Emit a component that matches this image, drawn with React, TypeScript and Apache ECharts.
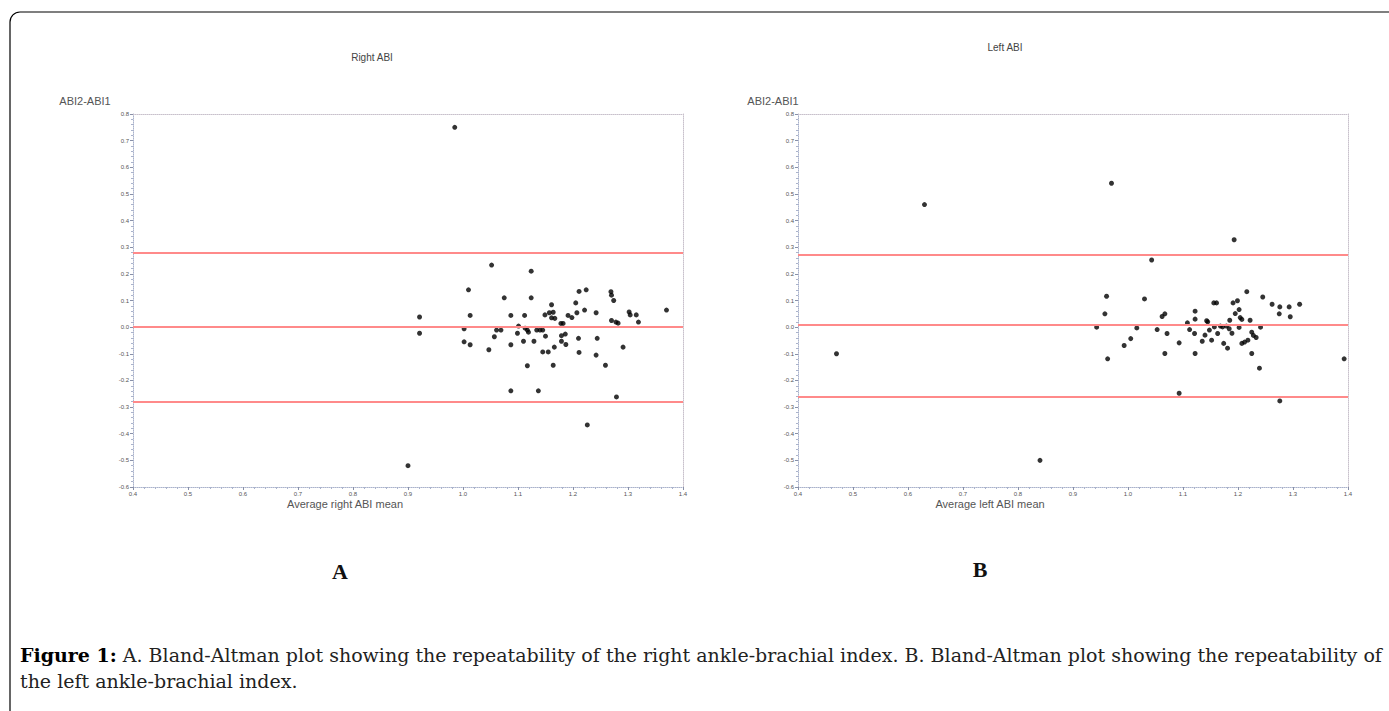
import React, { useEffect, useRef } from "react";
import * as echarts from "echarts";

// Right ABI (panel A): mean of the two measurements vs difference
const rightAbiMean = [
  1.052, 1.124, 1.01, 1.075, 1.124, 1.211, 1.224, 1.269, 1.27, 1.274, 1.161, 1.205,
  0.921, 0.921, 1.013, 1.002, 1.002, 1.013, 1.047, 1.057, 1.061, 1.069, 1.087, 1.112,
  1.087, 1.101, 1.099, 1.11, 1.113, 1.117, 1.119, 1.129, 1.134, 1.14, 1.145, 1.15,
  1.149, 1.157, 1.164, 1.161, 1.167, 1.178, 1.182, 1.191, 1.198, 1.207, 1.221, 1.242,
  1.179, 1.186, 1.179, 1.187, 1.166, 1.145, 1.155, 1.117, 1.164, 1.21, 1.211, 1.244,
  1.242, 1.259, 1.291, 1.27, 1.278, 1.282, 1.302, 1.304, 1.315, 1.319, 1.37, 1.087,
  1.137, 1.279, 1.226, 0.985, 0.9,
];
const rightAbiDiff = [
  0.233, 0.21, 0.14, 0.11, 0.11, 0.134, 0.14, 0.133, 0.12, 0.1, 0.084, 0.091,
  0.038, -0.023, 0.044, -0.006, -0.055, -0.066, -0.085, -0.036, -0.011, -0.011, 0.044, 0.044,
  -0.066, 0.004, -0.023, -0.053, -0.004, -0.011, -0.019, -0.053, -0.011, -0.011, -0.011, -0.034,
  0.046, 0.054, 0.056, 0.035, 0.033, 0.014, 0.014, 0.044, 0.036, 0.054, 0.064, 0.054,
  -0.032, -0.026, -0.053, -0.065, -0.075, -0.093, -0.093, -0.145, -0.143, -0.042, -0.095, -0.042,
  -0.105, -0.143, -0.075, 0.025, 0.019, 0.015, 0.057, 0.046, 0.046, 0.019, 0.064, -0.239,
  -0.239, -0.262, -0.367, 0.75, -0.52,
];
const rightLimits = [0.285, 0.0, -0.285];

// Left ABI (panel B)
const leftAbiMean = [
  1.193, 1.043, 0.961, 0.958, 0.943, 0.963, 0.993, 1.005, 1.016, 1.03, 1.053, 1.062,
  1.067, 1.071, 1.067, 1.093, 1.093, 1.108, 1.112, 1.121, 1.122, 1.122, 1.122, 1.135,
  1.14, 1.143, 1.145, 1.148, 1.152, 1.156, 1.161, 1.157, 1.163, 1.168, 1.172, 1.174,
  1.179, 1.181, 1.184, 1.185, 1.189, 1.191, 1.195, 1.199, 1.202, 1.202, 1.204, 1.207,
  1.207, 1.212, 1.216, 1.218, 1.222, 1.225, 1.228, 1.233, 1.225, 1.239, 1.241, 1.245,
  1.262, 1.276, 1.275, 1.293, 1.295, 1.312, 1.276, 1.393, 0.47, 0.63, 0.97, 0.84,
];
const leftAbiDiff = [
  0.328, 0.252, 0.116, 0.05, 0.0, -0.119, -0.069, -0.043, -0.003, 0.106, -0.009, 0.04,
  0.05, -0.024, -0.099, -0.059, -0.248, 0.016, -0.009, -0.024, 0.06, 0.03, -0.099, -0.053,
  -0.03, 0.024, 0.02, -0.011, -0.049, 0.091, 0.091, 0.001, -0.024, 0.004, 0.001, -0.061,
  0.004, -0.079, -0.006, 0.026, -0.023, 0.091, 0.051, 0.099, 0.066, -0.001, 0.036, 0.029,
  -0.061, -0.056, 0.133, -0.049, 0.026, -0.019, -0.031, -0.039, -0.099, -0.154, 0.0, 0.113,
  0.086, 0.076, 0.05, 0.076, 0.039, 0.086, -0.277, -0.119, -0.1, 0.46, 0.54, -0.5,
];
const leftLimits = [0.27, 0.008, -0.26];

const panelTitles = ["Right ABI", "Left ABI"];
const xNames = ["Average right ABI mean", "Average left ABI mean"];
const yName = "ABI2-ABI1";

const axisColor = "#aab3cc";
const fmt = (v: number) => (Math.abs(v) < 1e-9 ? "0.0" : v.toFixed(1));

function mainAxis(kind: "x" | "y", gridIndex: number) {
  const isX = kind === "x";
  return {
    type: "value",
    gridIndex,
    min: isX ? 0.4 : -0.6,
    max: isX ? 1.4 : 0.8,
    interval: 0.1,
    position: isX ? "bottom" : "left",
    axisLine: { show: true, onZero: false, lineStyle: { color: axisColor, width: 1, type: "dotted" } },
    axisTick: { show: true, length: 3, lineStyle: { color: "#8890a8" } },
    minorTick: { show: true, splitNumber: 5, length: 2, lineStyle: { color: axisColor } },
    axisLabel: { fontSize: 6, color: "#555", margin: 4, formatter: fmt, fontFamily: "Liberation Sans" },
    splitLine: { show: false },
  };
}
function frameAxis(kind: "x" | "y", gridIndex: number) {
  const isX = kind === "x";
  return {
    type: "value",
    gridIndex,
    min: isX ? 0.4 : -0.6,
    max: isX ? 1.4 : 0.8,
    interval: 0.1,
    position: isX ? "top" : "right",
    axisLine: { show: true, onZero: false, lineStyle: { color: "#c8c0cc", width: 1, type: "dotted" } },
    axisTick: { show: false },
    axisLabel: { show: false },
    splitLine: { show: false },
  };
}

function scatter(xs: number[], ys: number[], limits: number[], idx: number) {
  return {
    type: "scatter",
    xAxisIndex: idx * 2,
    yAxisIndex: idx * 2,
    symbolSize: 5,
    itemStyle: { color: "#000" },
    data: xs.map((x, i) => [x, ys[i]]),
    markLine: {
      silent: true,
      symbol: ["none", "none"],
      label: { show: false },
      lineStyle: { color: "#ff8a8a", width: 2, type: "solid" },
      data: limits.map((v) => ({ yAxis: v })),
    },
    z: 3,
  };
}

export default function App() {
  const ref = useRef<HTMLDivElement>(null);
  useEffect(() => {
    if (!ref.current) return;
    const chart = echarts.init(ref.current, undefined, { renderer: "svg" });
    const sans = "Liberation Sans";
    const serif = "DejaVu Serif";
    chart.setOption({
      animation: false,
      backgroundColor: "#fff",
      grid: [
        { left: 133, top: 114, width: 550, height: 373 },
        { left: 798, top: 114, width: 550, height: 373 },
      ],
      xAxis: [mainAxis("x", 0), frameAxis("x", 0), mainAxis("x", 1), frameAxis("x", 1)],
      yAxis: [mainAxis("y", 0), frameAxis("y", 0), mainAxis("y", 1), frameAxis("y", 1)],
      series: [
        scatter(rightAbiMean, rightAbiDiff, rightLimits, 0),
        scatter(leftAbiMean, leftAbiDiff, leftLimits, 1),
      ],
      graphic: [
        {
          type: "rect",
          shape: { x: 10, y: 12, width: 1400, height: 730, r: 10 },
          style: { fill: "none", stroke: "#000", lineWidth: 1.2 },
          silent: true,
        },
        { type: "text", x: 372, y: 57, style: { text: panelTitles[0], fill: "#444", font: `10px ${sans}`, align: "center", verticalAlign: "middle" } },
        { type: "text", x: 1005, y: 47, style: { text: panelTitles[1], fill: "#444", font: `10px ${sans}`, align: "center", verticalAlign: "middle" } },
        { type: "text", x: 85, y: 101, style: { text: yName, fill: "#555", font: `11px ${sans}`, align: "center", verticalAlign: "middle" } },
        { type: "text", x: 773, y: 101, style: { text: yName, fill: "#555", font: `11px ${sans}`, align: "center", verticalAlign: "middle" } },
        { type: "text", x: 345, y: 504, style: { text: xNames[0], fill: "#555", font: `11px ${sans}`, align: "center", verticalAlign: "middle" } },
        { type: "text", x: 990, y: 504, style: { text: xNames[1], fill: "#555", font: `11px ${sans}`, align: "center", verticalAlign: "middle" } },
        { type: "text", x: 340, y: 571, style: { text: "A", fill: "#111", font: `bold 22px "Liberation Serif"`, align: "center", verticalAlign: "middle" } },
        { type: "text", x: 980, y: 569, style: { text: "B", fill: "#111", font: `bold 22px "Liberation Serif"`, align: "center", verticalAlign: "middle" } },
        {
          type: "text",
          x: 20,
          y: 655,
          style: {
            text: "{b|Figure 1:} A. Bland-Altman plot showing the repeatability of the right ankle-brachial index. B. Bland-Altman plot showing the repeatability of",
            rich: { b: { fontWeight: "bold", fontFamily: serif, fontSize: 19, fill: "#000" } },
            fill: "#222",
            font: `19px ${serif}`,
            verticalAlign: "middle",
          },
        },
        {
          type: "text",
          x: 20,
          y: 681,
          style: { text: "the left ankle-brachial index.", fill: "#222", font: `19px ${serif}`, verticalAlign: "middle" },
        },
      ],
    });
    return () => chart.dispose();
  }, []);
  return (
    <div
      ref={ref}
      style={{ position: "fixed", left: 0, top: 0, width: 1389, height: 711, background: "#fff" }}
    />
  );
}
